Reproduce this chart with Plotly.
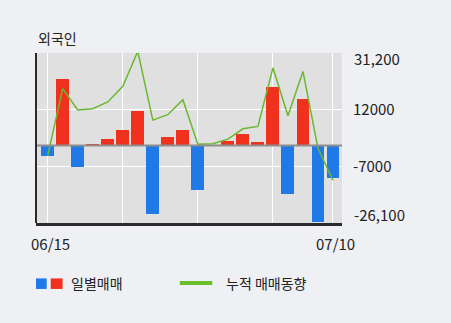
import plotly.graph_objects as go

dates = ["06/15","06/16","06/17","06/18","06/19","06/22","06/23","06/24","06/25","06/26",
         "06/29","06/30","07/01","07/02","07/03","07/06","07/07","07/08","07/09","07/10"]
daily = [-3390, 22600, -7230, 450, 2260, 5310, 11750, -23165, 2940, 5310,
         -15030, 150, 1700, 3955, 1240, 19890, -16385, 15820, -25880, -10850]
cumulative = [-3390, 19200, 11980, 12430, 14690, 20000, 31750, 8585, 10400, 15480,
              450, 600, 2150, 5650, 6440, 26200, 10060, 24970, -910, -11760]
y_ticks = [31200, 12000, -7000, -26100]
y_labels = ["31,200", "12000", "-7000", "-26,100"]
x_tick_idx = [0, 5, 10, 15, 19]
x_label_idx = [0, 19]

RED = "#f0311e"
BLUE = "#1f7ae8"
GREEN = "#6ab82e"
FONT = "Noto Sans CJK KR"
TXT = "#222222"

x = list(range(len(dates)))
colors = [RED if v >= 0 else BLUE for v in daily]

fig = go.Figure()
fig.add_trace(go.Bar(x=x, y=daily, marker=dict(color=colors, line=dict(width=0)),
                     width=0.86, showlegend=False, hoverinfo="skip"))
fig.add_trace(go.Scatter(x=x, y=cumulative, mode="lines",
                         line=dict(color=GREEN, width=1.5), showlegend=False))

annotations = [
    dict(text="외국인", xref="paper", yref="paper", x=0.0, y=1.0, yshift=15,
         xanchor="left", yanchor="middle", showarrow=False,
         font=dict(size=14, color=TXT, family=FONT)),
    dict(text=y_labels[0], xref="paper", yref="y", x=1.0, y=y_ticks[0], xshift=10, yshift=-5,
         xanchor="left", yanchor="middle", showarrow=False, font=dict(size=15, color=TXT)),
    dict(text=y_labels[3], xref="paper", yref="y", x=1.0, y=y_ticks[3], xshift=10, yshift=9,
         xanchor="left", yanchor="middle", showarrow=False, font=dict(size=15, color=TXT)),
    dict(text="일별매매", xref="paper", yref="paper", x=0.109, y=-0.353,
         xanchor="left", yanchor="middle", showarrow=False, font=dict(size=14, color=TXT)),
    dict(text="누적 매매동향", xref="paper", yref="paper", x=0.614, y=-0.353,
         xanchor="left", yanchor="middle", showarrow=False, font=dict(size=14, color=TXT)),
]
for i in x_label_idx:
    annotations.append(dict(text=dates[i], xref="x", yref="paper", x=x[i], y=0.0,
                            xshift=3, yshift=-20, xanchor="center", yanchor="middle",
                            showarrow=False, font=dict(size=15, color=TXT)))

fig.update_layout(
    width=451, height=323,
    margin=dict(l=36, r=109, t=53, b=100),
    paper_bgcolor="#eef0f4", plot_bgcolor="#e0e0e0",
    font=dict(family=FONT, color=TXT, size=13),
    bargap=0,
    xaxis=dict(range=[-0.78, 19.6], tickvals=[x[i] for i in x_tick_idx],
               showticklabels=False,
               showgrid=True, gridcolor="#ffffff", gridwidth=1,
               showline=True, linecolor="#2b2b2b", linewidth=2.5, mirror=False,
               ticks="", zeroline=False),
    yaxis=dict(range=[-26100, 31200], side="right", tickvals=y_ticks,
               ticktext=["", y_labels[1], y_labels[2], ""],
               showgrid=True, gridcolor="#ffffff", gridwidth=1,
               zeroline=False, showline=False, ticks="", ticklabelstandoff=10,
               tickfont=dict(size=15, color=TXT)),
    shapes=[
        dict(type="line", xref="paper", yref="y", x0=0, x1=1, y0=0, y1=0,
             line=dict(color="#8e8e8e", width=2), layer="above"),
        dict(type="line", xref="paper", yref="paper", x0=0, x1=0, y0=0, y1=1,
             line=dict(color="#2b2b2b", width=2), layer="above"),
        dict(type="rect", xref="paper", yref="paper", x0=0.0, x1=0.035, y0=-0.388, y1=-0.326,
             fillcolor=BLUE, line=dict(width=0)),
        dict(type="rect", xref="paper", yref="paper", x0=0.048, x1=0.087, y0=-0.388, y1=-0.326,
             fillcolor=RED, line=dict(width=0)),
        dict(type="line", xref="paper", yref="paper", x0=0.470, x1=0.576, y0=-0.353, y1=-0.353,
             line=dict(color="#6cbf2a", width=4)),
    ],
    annotations=annotations,
)

fig.write_html("out.html")
